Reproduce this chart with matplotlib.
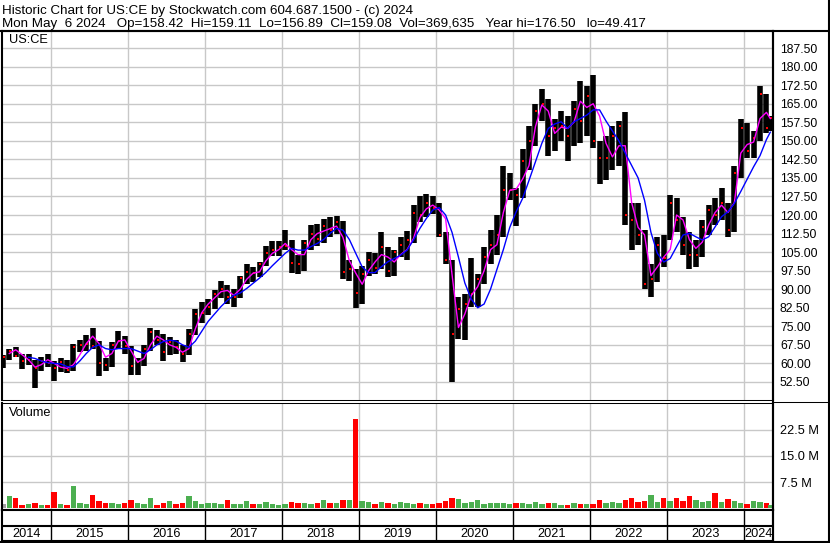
import numpy as np
import pandas as pd
import matplotlib
matplotlib.use("Agg")
import matplotlib.pyplot as plt
from matplotlib.lines import Line2D

plt.rcParams["font.family"] = ["Liberation Sans", "DejaVu Sans"]

# monthly bars, May 2014 .. May 2024
months = pd.date_range("2014-05-01", "2024-05-01", freq="MS")

high = [63.5, 66.0, 66.8, 64.0, 64.0, 61.5, 62.5, 64.0,
        61.0, 62.0, 61.5, 68.0, 69.5, 71.5, 74.5, 69.0, 62.0, 68.5, 73.0, 71.0,
        67.0, 62.0, 67.5, 74.5, 73.5, 72.0, 70.5, 69.5, 67.5, 74.0, 82.0, 85.0,
        86.0, 89.5, 93.5, 91.5, 90.0, 95.5, 100.0, 99.0, 101.0, 107.5, 109.5, 109.5,
        114.0, 110.0, 104.0, 110.0, 116.0, 116.5, 118.5, 119.0, 119.5, 117.5, 102.0, 98.0,
        99.5, 105.0, 104.5, 113.0, 107.0, 106.0, 111.0, 113.5, 124.0, 127.5, 128.5, 127.5,
        125.0, 113.0, 102.0, 87.0, 88.0, 102.5, 96.0, 107.0, 114.0, 120.0, 140.0, 137.0,
        131.0, 146.5, 156.0, 165.0, 171.0, 167.0, 159.0, 162.0, 160.0, 166.0, 174.0, 172.0,
        176.5, 150.0, 152.0, 156.0, 158.0, 161.7, 125.0, 125.0, 114.0, 100.0, 111.0, 112.0,
        128.0, 127.0, 119.0, 113.0, 110.0, 118.0, 124.0, 127.0, 131.0, 125.0, 140.0, 159.0,
        157.0, 154.0, 172.0, 169.0, 160.0]

low = [58.0, 61.5, 62.5, 57.8, 59.5, 49.9, 57.0, 58.5,
       53.0, 56.5, 56.0, 57.0, 64.5, 65.0, 66.0, 55.0, 57.0, 58.5, 66.0, 64.0,
       55.5, 55.5, 59.0, 65.0, 67.5, 61.0, 63.5, 64.0, 60.5, 63.5, 71.5, 76.5,
       79.5, 82.0, 86.5, 84.0, 83.0, 86.5, 92.0, 93.0, 95.0, 99.5, 103.5, 103.5,
       106.0, 96.5, 96.0, 97.5, 106.0, 107.5, 108.5, 111.0, 112.5, 94.0, 93.5, 82.5,
       84.0, 95.5, 96.0, 98.0, 95.0, 95.5, 103.0, 102.0, 108.5, 117.0, 119.0, 120.5,
       111.0, 100.0, 52.6, 70.0, 69.5, 83.0, 83.0, 92.0, 100.0, 104.0, 111.0, 126.0,
       115.5, 127.0, 138.0, 148.0, 158.0, 144.0, 146.0, 150.0, 142.0, 148.0, 149.0, 152.0,
       147.0, 132.5, 134.0, 138.0, 140.0, 116.0, 106.0, 108.0, 90.0, 86.7, 93.0, 99.0,
       110.0, 113.0, 104.0, 98.0, 99.0, 103.0, 112.0, 116.0, 118.0, 111.0, 113.0, 135.0,
       143.0, 143.0, 150.0, 153.0, 154.0]

close = [62.5, 65.0, 63.0, 61.0, 61.5, 58.0, 61.0, 60.0,
         58.0, 60.5, 57.5, 66.5, 67.5, 68.0, 67.0, 60.0, 59.5, 67.5, 69.0, 67.0,
         59.0, 60.5, 66.0, 72.5, 69.5, 64.5, 68.5, 66.5, 64.0, 72.0, 80.0, 80.5,
         83.0, 88.0, 90.0, 87.0, 87.0, 94.5, 97.0, 96.5, 100.0, 104.5, 106.0, 107.0,
         107.5, 100.5, 100.0, 108.5, 112.5, 110.5, 115.5, 114.0, 117.0, 97.0, 98.0, 88.5,
         96.0, 102.0, 98.5, 107.0, 97.5, 105.0, 108.0, 110.0, 121.0, 120.0, 125.0, 123.0,
         112.0, 102.0, 72.0, 82.0, 84.0, 88.0, 94.0, 103.0, 108.0, 112.0, 130.0, 130.0,
         128.0, 142.0, 150.0, 162.0, 165.0, 152.0, 155.0, 156.0, 152.0, 163.0, 158.0, 168.0,
         150.0, 143.0, 143.0, 152.0, 156.0, 120.0, 118.0, 112.0, 92.0, 94.0, 108.0, 102.5,
         125.0, 118.0, 108.0, 104.0, 104.0, 115.0, 122.0, 120.0, 125.0, 114.0, 137.0, 155.0,
         146.0, 151.0, 169.0, 155.0, 159.1]

ma_fast = [np.nan, 64.0, 65.5, 63.5, 61.5, 58.5, 59.5, 61.5,
           60.0, 58.5, 58.0, 59.5, 63.5, 68.0, 71.0, 68.0, 62.5, 64.0, 69.0, 69.5,
           65.0, 60.5, 62.0, 67.5, 71.0, 69.5, 67.5, 66.5, 64.5, 66.0, 74.0, 80.5,
           84.0, 86.5, 89.0, 89.5, 87.5, 90.0, 94.0, 96.5, 97.0, 101.5, 104.5, 106.0,
           108.5, 106.0, 104.0, 104.0, 110.0, 112.5, 113.5, 114.5, 115.5, 111.0, 101.5, 96.5,
           92.0, 97.5, 101.0, 104.0, 103.0, 101.0, 104.0, 106.0, 110.5, 119.0, 122.5, 124.0,
           122.0, 118.5, 96.0, 74.5, 80.0, 87.5, 91.0, 97.5, 106.0, 108.0, 121.0, 130.0,
           130.5, 134.5, 140.0, 155.7, 164.5, 162.0, 153.0, 155.5, 155.0, 157.5, 166.0, 163.5,
           165.0, 160.0, 149.0, 143.5, 148.0, 148.0, 125.0, 115.0, 112.0, 95.5, 99.0, 103.0,
           106.0, 120.0, 118.0, 110.0, 106.5, 109.0, 116.0, 121.0, 124.0, 121.0, 125.0, 145.0,
           148.5, 149.5, 159.0, 161.5, 159.0]

ma_slow = [np.nan, np.nan, np.nan, np.nan, 62.5, 62.0, 61.0, 60.3,
           60.0, 59.8, 58.7, 58.6, 61.0, 64.0, 66.5, 67.5, 66.0, 65.5, 66.0, 66.0,
           66.0, 65.0, 64.0, 65.5, 67.5, 68.8, 69.4, 69.0, 67.5, 66.5, 69.0, 73.0,
           77.0, 80.0, 83.0, 85.5, 87.5, 88.5, 90.3, 92.4, 94.5, 96.8, 99.5, 102.0,
           104.5, 106.5, 105.8, 105.8, 107.2, 108.5, 110.1, 112.6, 114.6, 113.9, 110.1, 104.5,
           99.0, 96.7, 96.7, 99.1, 101.1, 102.4, 103.8, 105.8, 109.9, 114.6, 118.6, 122.0,
           123.0, 120.0, 113.0, 103.0, 92.5, 86.0, 82.5, 84.0, 90.0, 98.0, 106.0, 115.0,
           121.3, 126.7, 134.0, 141.5, 149.0, 155.0, 156.8, 157.7, 155.0, 157.7, 159.0, 160.4,
           162.5, 162.5, 158.0, 154.0, 150.0, 145.0, 140.0, 135.0, 126.0, 113.0, 104.5, 101.0,
           102.4, 107.2, 111.9, 112.6, 111.2, 109.9, 111.2, 115.2, 119.3, 121.3, 124.7, 129.5,
           134.5, 139.5, 144.0, 150.5, 153.5]

# volume in millions of shares
volume = [1.2, 3.6, 2.8, 1.0, 1.2, 1.5, 1.0, 1.0,
          4.6, 1.3, 1.0, 6.5, 1.5, 1.3, 3.7, 2.2, 1.6, 1.4, 1.3, 1.5,
          2.5, 1.4, 1.2, 2.9, 1.0, 1.4, 2.0, 1.2, 1.5, 3.6, 2.0, 1.3,
          1.4, 1.6, 1.2, 2.3, 1.3, 1.3, 2.0, 1.3, 1.2, 1.8, 1.2, 0.9,
          1.2, 1.8, 1.4, 1.6, 1.3, 1.4, 2.3, 1.4, 1.5, 2.4, 2.5, 25.5,
          2.2, 1.8, 1.3, 1.9, 1.4, 1.2, 1.9, 1.4, 1.2, 1.6, 1.3, 1.1,
          1.6, 2.2, 2.8, 2.6, 1.6, 1.8, 2.3, 1.2, 1.4, 1.6, 1.4, 1.2,
          1.5, 1.6, 1.2, 1.7, 1.2, 1.4, 1.5, 1.0, 1.0, 1.5, 1.2, 1.3,
          1.3, 2.5, 1.6, 1.8, 1.5, 2.3, 2.8, 1.8, 2.0, 3.9, 1.8, 2.8,
          2.0, 3.0, 2.2, 3.6, 2.5, 1.8, 2.0, 4.3, 1.8, 2.7, 2.2, 1.5,
          1.2, 2.0, 1.8, 1.5, 1.0]

price_ticks = np.arange(52.5, 188, 7.5)
vol_ticks = [7.5, 15.0, 22.5]
year_labels = [str(y) for y in range(2014, 2025)]

header1 = "Historic Chart for US:CE by Stockwatch.com 604.687.1500 - (c) 2024"
header2 = ("Mon May  6 2024   Op=158.42  Hi=159.11  Lo=156.89  Cl=159.08  "
           "Vol=369,635   Year hi=176.50   lo=49.417")

# x as fractional years
xpos = np.array(months.year + (months.month - 0.5) / 12.0)
xpos[-1] = 2024 + 4.1 / 12.0  # only the first days of May 2024
x_lo, x_hi = 2014.364, 2024.377

W, H = 830, 543
fig = plt.figure(figsize=(W / 100, H / 100), dpi=100)


def box(x0, y0, x1, y1):
    return [x0 / W, 1 - y1 / H, (x1 - x0) / W, (y1 - y0) / H]


def fy(y):
    return 1 - y / H


grid_c = "#c8c8c8"
ax = fig.add_axes(box(2, 31, 773, 400))
axv = fig.add_axes(box(2, 403, 773, 510))
axy = fig.add_axes(box(2, 510, 773, 541))

# price panel
ax.vlines(xpos, low, high, color="black", lw=4.0, zorder=2)
ax.plot(xpos + 0.01, close, ls="none", marker="s", ms=1.8, mew=0,
        color="red", zorder=3)
ax.plot(xpos, ma_fast, color="#ff00ff", lw=1.0, zorder=4)
ax.plot(xpos, ma_slow, color="#0000ff", lw=1.0, zorder=4)
ax.set_xlim(x_lo, x_hi)
ax.set_ylim(45.2, 194.4)
ax.set_yticks(price_ticks)
ax.set_yticklabels([f"{t:.2f}" for t in price_ticks])
ax.set_xticks(range(2015, 2025))
ax.set_xticklabels([])
ax.yaxis.tick_right()
ax.tick_params(axis="both", length=0)
ax.tick_params(axis="y", pad=5, labelsize=8.8)
ax.grid(True, color=grid_c, lw=1.0)
ax.set_axisbelow(True)

# volume panel
vcol = ["#a0a0a0"] + ["#ff0000" if c < p else "#4caf50"
                      for p, c in zip(close[:-1], close[1:])]
axv.bar(xpos, volume, width=0.07, color=vcol, zorder=2)
axv.set_xlim(x_lo, x_hi)
axv.set_ylim(-0.5, 30.1)
axv.set_yticks(vol_ticks)
axv.set_yticklabels([f"{t:.1f} M" for t in vol_ticks])
axv.set_xticks(range(2015, 2025))
axv.set_xticklabels([])
axv.yaxis.tick_right()
axv.tick_params(axis="both", length=0)
axv.tick_params(axis="y", pad=5, labelsize=9.2)
axv.grid(True, color=grid_c, lw=1.0)
axv.set_axisbelow(True)

# year strip
axy.set_xlim(x_lo, x_hi)
axy.set_ylim(0, 1)
axy.set_xticks([])
axy.set_yticks([])
axy.vlines(range(2015, 2025), 0, 1, color="black", lw=1.0)
axy.axhline(0.484, color="black", lw=1.5)
bounds = [x_lo] + list(range(2015, 2025)) + [x_hi]
for lab, a, b in zip(year_labels, bounds[:-1], bounds[1:]):
    axy.text((a + b) / 2, 0.22, lab, ha="center", va="center", fontsize=9.2)

for a in (ax, axv, axy):
    for s in a.spines.values():
        s.set_color("black")
        s.set_linewidth(1.5)
ax.spines["bottom"].set_linewidth(0.75)
axv.spines["top"].set_linewidth(0.75)

# frame pieces outside the axes
lines = [
    ((0, W), (30.5, 30.5), 1.5),
    ((828.5, 828.5), (0, H), 1.5),
    ((0, W), (541.8, 541.8), 1.5),
    ((773, W), (401.5, 401.5), 0.75),
    ((773, 773), (31, 541), 1.5),
]
for xs, ys, lw in lines:
    fig.add_artist(Line2D([x / W for x in xs], [fy(y) for y in ys],
                          color="black", lw=lw))

fig.text(2 / W, fy(13.7), header1, va="baseline", fontsize=9.6)
fig.text(2 / W, fy(27.3), header2, va="baseline", fontsize=9.6)
fig.text(9 / W, fy(40), "US:CE", va="center", fontsize=9.2)
fig.text(9 / W, fy(413), "Volume", va="center", fontsize=9.2)

fig.savefig("out.png", dpi=100)
